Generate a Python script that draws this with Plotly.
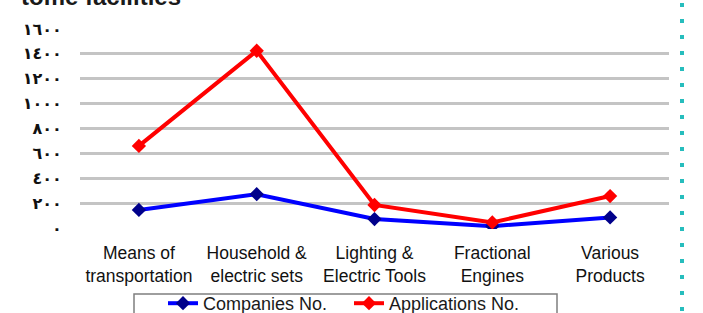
import plotly.graph_objects as go

categories = ["Means of<br>transportation", "Household &<br>electric sets", "Lighting &<br>Electric Tools",
              "Fractional<br>Engines", "Various<br>Products"]
companies = [145, 272, 72, 15, 85]
applications = [660, 1425, 185, 45, 257]
tick_vals = [0, 200, 400, 600, 800, 1000, 1200, 1400, 1600]
tick_text = ["٠", "٢٠٠", "٤٠٠", "٦٠٠", "٨٠٠", "١٠٠٠", "١٢٠٠", "١٤٠٠", "١٦٠٠"]

W, H = 703, 313
L, R, T, B = 80, 34, 28, 84
PW, PH = W - L - R, H - T - B

def px_x(p):
    return (p - L) / PW

def px_y(p):
    return (H - B - p) / PH

fig = go.Figure()
fig.add_trace(go.Scatter(
    x=categories, y=companies, name="Companies No.", mode="lines+markers",
    line=dict(color="#0000FF", width=4),
    marker=dict(symbol="diamond", size=11, color="#00008B"),
))
fig.add_trace(go.Scatter(
    x=categories, y=applications, name="Applications No.", mode="lines+markers",
    line=dict(color="#FF0000", width=4),
    marker=dict(symbol="diamond", size=11, color="#FF0000"),
))

fig.update_layout(
    width=W, height=H,
    margin=dict(l=L, r=R, t=T, b=B, autoexpand=False),
    paper_bgcolor="white", plot_bgcolor="white",
    font=dict(family="Liberation Sans, Arial", color="#1a1a1a"),
    showlegend=True,
    legend=dict(
        orientation="h", x=px_x(163), xanchor="left", y=px_y(285), yanchor="top",
        font=dict(size=18, color="#1a1a1a"), bgcolor="rgba(0,0,0,0)",
        entrywidth=141, entrywidthmode="pixels", itemwidth=30,
    ),
    xaxis=dict(
        showgrid=False, showline=False, zeroline=False, automargin=False,
        tickfont=dict(size=17.5, color="#111111"), ticks="outside", ticklen=8,
        tickcolor="rgba(0,0,0,0)",
        range=[-0.5, 4.5],
    ),
    yaxis=dict(
        range=[-8, 1608], tickvals=tick_vals, ticktext=tick_text, automargin=False,
        showgrid=True, gridcolor="#C4C4C4", gridwidth=2.5,
        zeroline=False, showline=False,
        tickfont=dict(size=16, family="DejaVu Sans", color="#111111", weight="bold"),
        ticks="outside", ticklen=14, tickcolor="rgba(0,0,0,0)",
    ),
    shapes=[
        dict(type="rect", xref="paper", yref="paper",
             x0=px_x(134), x1=px_x(557), y0=px_y(294), y1=px_y(330),
             line=dict(color="#7f7f7f", width=1.5), fillcolor="rgba(0,0,0,0)"),
        dict(type="line", xref="paper", yref="paper",
             x0=px_x(682), x1=px_x(682), y0=px_y(3), y1=px_y(330),
             line=dict(color="#26BDBD", width=4, dash="4px,12px")),
    ],
    annotations=[
        dict(text="<b>tome facilities</b>", xref="paper", yref="paper",
             x=px_x(19), xanchor="left", y=px_y(12), yanchor="bottom",
             showarrow=False, font=dict(size=24, color="#1a1a1a",
                                        family="Liberation Sans, Arial")),
    ],
)

fig.write_html("out.html", config={"displayModeBar": False},
               post_script="document.body.style.margin='0';document.body.style.overflow='hidden';")
